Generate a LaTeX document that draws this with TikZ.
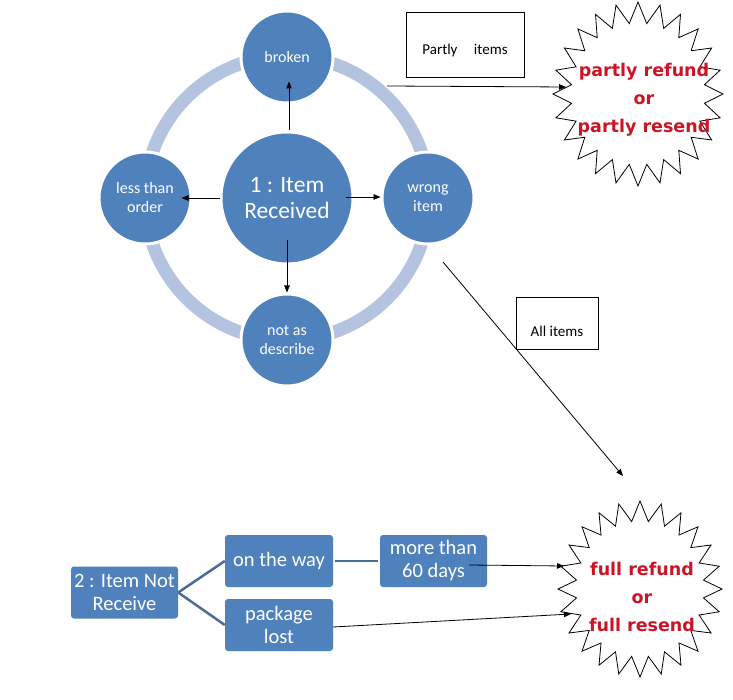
\documentclass[tikz,border=0pt]{standalone}
\usepackage{fontspec}
\setmainfont{Carlito}
\newfontfamily\comic{DejaVu Sans}
\usetikzlibrary{arrows.meta}
\definecolor{sablue}{HTML}{4F81BD}
\definecolor{ringblue}{HTML}{B4C4E0}
\definecolor{lineblue}{HTML}{4A6C98}
\definecolor{starred}{RGB}{205,20,36}
\tikzset{
  arr/.style={draw=black, line width=0.8pt, -{Triangle[length=7pt,width=5.5pt]}},
  bigc/.style={circle, fill=sablue, draw=white, line width=3pt, minimum size=132pt, inner sep=0pt, text=white, align=center, font=\fontsize{23.5}{26}\selectfont},
  smc/.style={circle, fill=sablue, draw=white, line width=3pt, minimum size=92pt, inner sep=0pt, text=white, align=center, font=\fontsize{16}{19}\selectfont},
  lblbox/.style={draw=black, line width=0.8pt, fill=white, inner sep=0pt, text depth=0pt, font=\fontsize{15}{17}\selectfont},
  bbox/.style={rectangle, rounded corners=3pt, fill=sablue, text=white, inner sep=0pt, align=center, minimum width=107pt, minimum height=52pt, font=\fontsize{20.5}{23}\selectfont},
  bline/.style={draw=lineblue, line width=2.5pt},
  startext/.style={text=starred, align=center, font=\comic\bfseries\fontsize{17.5}{28}\selectfont, inner sep=0pt},
  starline/.style={draw=black, line width=0.8pt, fill=white}
}
\begin{document}
\begin{tikzpicture}[x=1pt,y=-1pt]
\useasboundingbox[fill=white] (0,0) rectangle (733,700);
% ring
\draw[ringblue, line width=13pt] (287,198) circle[radius=142];
% circles
\node[bigc] (c) at (287,198) {1 : Item\\Received};
\node[smc] (br) at (287,57) {broken};
\node[smc] (lt) at (145,198) {less than\\order};
\node[smc] (wr) at (428,198) {wrong\\item};
\node[smc] (nd) at (287,340) {not as\\describe};
% arrows from center
\draw[arr] ([xshift=2pt]c.north) -- ([xshift=2pt,yshift=23pt]br.south);
\draw[arr] (c.west) -- ([xshift=-11pt]lt.east);
\draw[arr] ([xshift=-9pt,yshift=1pt]c.east) -- ([yshift=1pt]wr.west);
\draw[arr] ([yshift=25pt]c.south) -- (nd.north);
% label boxes
\node[lblbox, text height=20pt, minimum width=118pt, minimum height=65pt] (pi) at (465,44.5) {Partly\hspace{1.1em}items};
\node[lblbox, text height=28pt, minimum width=82pt, minimum height=52pt] (ai) at (557,323) {All items};
% stars
\draw[starline] plot[samples at={0,...,47}, variable=\k]
  ({638+ifthenelse(mod(\k,2)==0,85,67)*cos(90+7.5*\k)}, {94-ifthenelse(mod(\k,2)==0,92,71)*sin(90+7.5*\k)}) -- cycle;
\draw[starline] plot[samples at={0,...,47}, variable=\k]
  ({640+ifthenelse(mod(\k,2)==0,82,64)*cos(90+7.5*\k)}, {589-ifthenelse(mod(\k,2)==0,88,68)*sin(90+7.5*\k)}) -- cycle;
\node[startext] (s1) at (644,100) {partly refund\\or\\partly resend};
\node[startext] (s2) at (642,597) {full refund\\or\\full resend};
% arrows to stars
\coordinate (p1) at (387,86);
\coordinate (p1e) at (566,87);
\draw[arr] (p1) -- (p1e);
\coordinate (a1) at (443,262);
\coordinate (a1e) at (623,476);
\draw[arr] (a1) -- (a1e);
% bottom boxes
\node[bbox] (nr) at (124.5,592.5) {2 : Item Not\\Receive};
\node[bbox, minimum width=108pt] (ow) at (279,561) {on the way};
\node[bbox, minimum width=108pt] (pl) at (279,625) {package\\lost};
\node[bbox] (mt) at (433.5,561) {more than\\60 days};
\draw[bline] (nr.east) -- (ow.west);
\draw[bline] (nr.east) -- (pl.west);
\draw[bline] ([xshift=2pt]ow.east) -- ([xshift=-2pt]mt.west);
\coordinate (m1) at (469,565);
\coordinate (m1e) at (564,566);
\draw[arr] (m1) -- (m1e);
\coordinate (q1e) at (571,614);
\draw[arr] ([yshift=-2pt]pl.east) -- (q1e);
\end{tikzpicture}
\end{document}
